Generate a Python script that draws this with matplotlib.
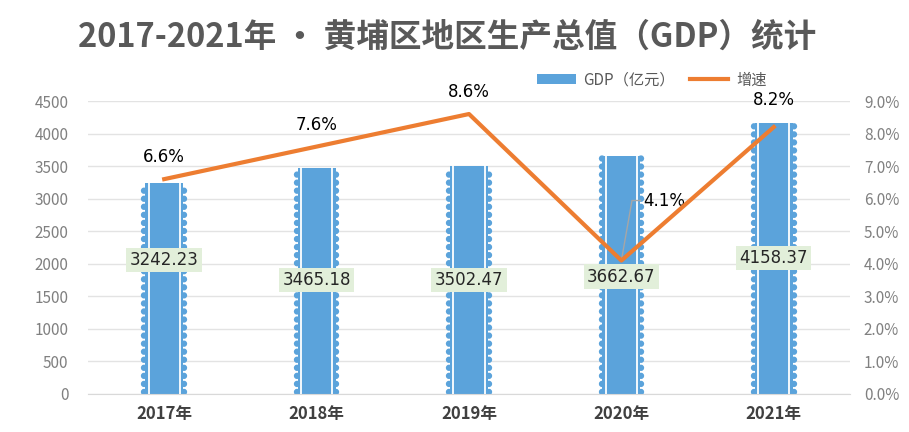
import matplotlib
matplotlib.use("Agg")
import matplotlib.pyplot as plt
from matplotlib.patches import Patch
from matplotlib.lines import Line2D
import numpy as np

plt.rcParams['font.family'] = ['Noto Sans CJK SC', 'DejaVu Sans']

years = ["2017年", "2018年", "2019年", "2020年", "2021年"]
gdp = [3242.23, 3465.18, 3502.47, 3662.67, 4158.37]
growth = [6.6, 7.6, 8.6, 4.1, 8.2]
gdp_ticks = [0, 500, 1000, 1500, 2000, 2500, 3000, 3500, 4000, 4500]
growth_ticks = [0, 1, 2, 3, 4, 5, 6, 7, 8, 9]

title = "2017-2021年 · 黄埔区地区生产总值（GDP）统计"

# layout
bar_label_y = [2060, 1750, 1750, 1800, 2090]
BLUE = "#5BA3DB"
ORANGE = "#ED7D31"
GRID = "#E3E3E3"
TICK = "#808080"

fig = plt.figure(figsize=(9.09, 4.32), dpi=100)
ax = fig.add_axes([88/909, 1-394/432, (850-88)/909, (394-101)/432])
ax2 = ax.twinx()

x = np.arange(len(years))
bw = 0.25
ax.bar(x, gdp, width=bw, color=BLUE, zorder=2)
for xi, h in zip(x, gdp):
    for s in (-1, 1):
        ax.plot([xi + s*0.13, xi + s*0.13], [30, h-30], color=BLUE, lw=4.6,
                linestyle=(0, (0.01, 1.25)), dash_capstyle='round', zorder=2)
        ax.plot([xi + s*0.103, xi + s*0.103], [0, h], color="white", lw=1.3, zorder=3)

ax.set_xlim(-0.5, len(years)-0.5)
ax.set_ylim(0, 4500)
ax.set_yticks(gdp_ticks)
ax.set_yticklabels([str(t) for t in gdp_ticks])
ax.yaxis.grid(True, color=GRID, lw=1, zorder=0)
ax.set_axisbelow(True)
ax.set_xticks(x)
ax.set_xticklabels(years, fontsize=12, fontweight='bold', color="#404040")
ax.tick_params(axis='x', length=0, pad=8)
ax.tick_params(axis='y', length=0, labelsize=11, labelcolor=TICK, pad=14)
for sp in ax.spines.values():
    sp.set_visible(False)
ax.spines['bottom'].set_visible(True)
ax.spines['bottom'].set_color("#D9D9D9")

for xi, v, ly in zip(x, gdp, bar_label_y):
    ax.text(xi, ly, f"{v:.2f}", ha='center', va='center', fontsize=12, color="#262626",
            family=['DejaVu Sans'],
            bbox=dict(boxstyle='square,pad=0.2', fc="#E2EFDA", ec='none'), zorder=5)

ax2.plot(x, growth, color=ORANGE, lw=3, zorder=4)
ax2.set_ylim(0, 9)
ax2.set_yticks(growth_ticks)
ax2.set_yticklabels([f"{t:.1f}%" for t in growth_ticks])
ax2.tick_params(axis='y', length=0, labelsize=11, labelcolor=TICK, pad=10)
for sp in ax2.spines.values():
    sp.set_visible(False)

for i, (xi, g) in enumerate(zip(x, growth)):
    if i == 3:
        ax2.annotate(f"{g}%", xy=(xi, g), xytext=(22, 60), textcoords='offset pixels',
                     ha='left', va='center', fontsize=12, color="#000000",
                     family=['DejaVu Sans'],
                     arrowprops=dict(arrowstyle='-', color="#A6A6A6", lw=1,
                                     shrinkA=0, shrinkB=0,
                                     connectionstyle='angle,angleA=0,angleB=80,rad=0'))
    else:
        ax2.annotate(f"{g}%", xy=(xi, g), xytext=(0, 22 if i < 4 else 27), textcoords='offset pixels',
                     ha='center', va='center', fontsize=12, color="#000000",
                     family=['DejaVu Sans'])

fig.text(447/909, 1-37/432, title, ha='center', va='center', fontsize=23.5,
         fontweight='bold', color="#595959")

handles = [Patch(facecolor=BLUE, edgecolor='none'),
           Line2D([0], [0], color=ORANGE, lw=3)]
leg = fig.legend(handles, ["GDP（亿元）", "增速"], loc='center',
                 bbox_to_anchor=(652/909, 1-80/432), ncol=2, frameon=False,
                 fontsize=11, handlelength=2.5, handleheight=0.6, columnspacing=1.0,
                 handletextpad=0.5)
for t in leg.get_texts():
    t.set_color("#595959")

fig.savefig("out.png", dpi=100)
